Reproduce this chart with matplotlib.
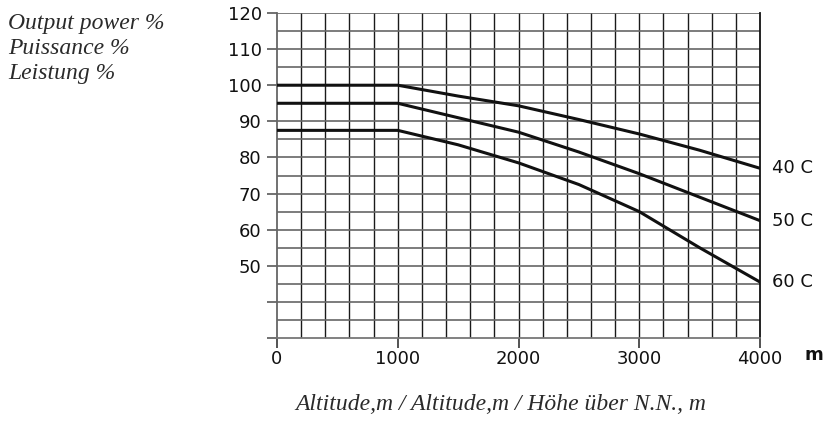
import matplotlib.pyplot as plt
import numpy as np

altitude = [0, 1000, 1500, 2000, 2500, 3000, 3500, 4000]
power_40c = [100, 100, 97, 94.3, 90.5, 86.5, 82, 77]
power_50c = [95, 95, 91, 87, 81.5, 75.5, 69, 62.5]
power_60c = [87.5, 87.5, 83.5, 78.5, 72.5, 65, 55, 45.5]
series = [("40 C", power_40c), ("50 C", power_50c), ("60 C", power_60c)]

y_ticks = [30, 40, 50, 60, 70, 80, 90, 100, 110, 120]
y_labels = ["", "", "50", "60", "70", "80", "90", "100", "110", "120"]
x_ticks = [0, 1000, 2000, 3000, 4000]

sans = ["DejaVu Sans"]
serif = ["Liberation Serif", "DejaVu Serif"]

fig = plt.figure(figsize=(8.25, 4.25), dpi=100)
ax = fig.add_axes([277 / 825, 1 - 338 / 425, 483 / 825, 325 / 425])

ax.set_xlim(0, 4000)
ax.set_ylim(30, 120)

# grid every 200 m and 5 %
for gx in np.arange(200, 4000, 200):
    ax.axvline(gx, color="#1a1a1a", lw=1.0, zorder=1)
for gy in np.arange(35, 121, 5):
    ax.axhline(gy, color="#666666", lw=1.2, zorder=1)

for name, vals in series:
    ax.plot(altitude, vals, color="#111111", lw=2.2, zorder=3)
    ax.text(4100, vals[-1], name, va="center", ha="left",
            fontsize=13, family=sans, color="#111111", clip_on=False)

ax.spines["top"].set_visible(False)
ax.spines["left"].set_color("#666666")
ax.spines["bottom"].set_color("#777777")
ax.spines["right"].set_color("#111111")
for s in ax.spines.values():
    s.set_linewidth(1.3)

ax.set_yticks(y_ticks)
ax.set_yticklabels(y_labels, fontsize=13, family=sans, color="#111111")
ax.set_xticks(x_ticks)
ax.set_xticklabels([str(v) for v in x_ticks], fontsize=13, family=sans, color="#111111")
ax.tick_params(axis="y", length=7, width=1.3, color="#666666", pad=4)
ax.tick_params(axis="x", length=7, width=1.3, color="#444444", pad=2)

fig.text(805 / 825, 1 - 355 / 425, "m", ha="left", va="center",
         fontsize=13, fontweight="bold", family=sans, color="#111111")

for i, line in enumerate(["Output power %", "Puissance %", "Leistung %"]):
    fig.text(8 / 825, 1 - (23 + 25 * i) / 425, line, ha="left", va="center",
             fontsize=17, style="italic", family=serif, color="#2a2a2a")

fig.text(501 / 825, 1 - 404 / 425, "Altitude,m / Altitude,m / Höhe über N.N., m",
         ha="center", va="center", fontsize=17, style="italic", family=serif,
         color="#2a2a2a")

fig.savefig("out.png", dpi=100)
